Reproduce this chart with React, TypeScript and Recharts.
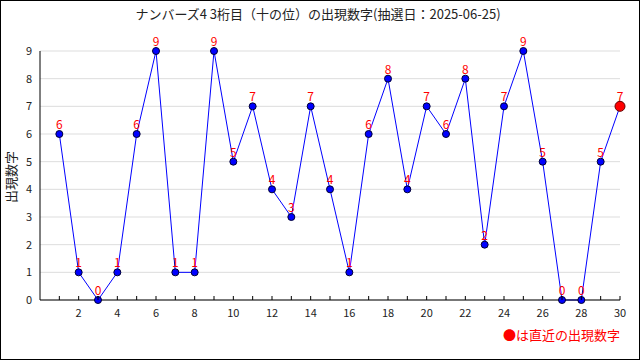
import { LineChart, Line, XAxis, YAxis, CartesianGrid, LabelList } from "recharts";

const draws = [1, 2, 3, 4, 5, 6, 7, 8, 9, 10, 11, 12, 13, 14, 15, 16, 17, 18, 19, 20, 21, 22, 23, 24, 25, 26, 27, 28, 29, 30];
const digits = [6, 1, 0, 1, 6, 9, 1, 1, 9, 5, 7, 4, 3, 7, 4, 1, 6, 8, 4, 7, 6, 8, 2, 7, 9, 5, 0, 0, 5, 7];
const yTicks = [0, 1, 2, 3, 4, 5, 6, 7, 8, 9];

const title = "ナンバーズ4 3桁目（十の位）の出現数字(抽選日：2025-06-25)";
const legendText = "●は直近の出現数字";
const yLabel = "出現数字";

const data = draws.map((d, i) => ({ n: d, v: digits[i] }));
const FONT = '"Noto Sans CJK JP", "DejaVu Sans", sans-serif';

if (typeof document !== "undefined") document.body.style.margin = "0";

// eslint-disable-next-line @typescript-eslint/no-explicit-any
function XTick({ x, y, payload }: any) {
  const v = payload.value;
  return (
    <g>
      <line x1={x} y1={y} x2={x} y2={y - 4} stroke="#000" />
      {v % 2 === 0 && (
        <text x={x} y={y + 17} textAnchor="middle" fontSize={11} fill="#222" fontFamily={FONT}>
          {v}
        </text>
      )}
    </g>
  );
}

// eslint-disable-next-line @typescript-eslint/no-explicit-any
function Dot({ cx, cy, index }: any) {
  if (index === digits.length - 1) {
    return <circle key={index} cx={cx} cy={cy} r={5} fill="#ff0000" stroke="#660000" strokeWidth={1} />;
  }
  return <circle key={index} cx={cx} cy={cy} r={3.5} fill="#0000ff" stroke="#000033" strokeWidth={1} />;
}

export default function App() {
  return (
    <div style={{ position: "relative", width: 640, height: 360, background: "#fff", fontFamily: FONT }}>
      <LineChart width={640} height={360} data={data} margin={{ top: 51, right: 20, left: 0, bottom: 40 }}>
        <CartesianGrid horizontal vertical={false} stroke="#dddddd" />
        <XAxis
          dataKey="n"
          type="number"
          domain={[0, 30]}
          ticks={draws}
          interval={0}
          tick={<XTick />}
          tickLine={false}
          tickSize={0}
          tickMargin={0}
          axisLine={{ stroke: "#000" }}
          height={20}
        />
        <YAxis
          domain={[0, 9]}
          ticks={yTicks}
          interval={0}
          width={40}
          tickLine={false}
          tickSize={0}
          tickMargin={8}
          axisLine={{ stroke: "#000" }}
          tick={{ fontSize: 11, fill: "#222", fontFamily: FONT }}
          label={{
            content: () => (
              <text
                x={12}
                y={177}
                transform="rotate(-90 12 177)"
                textAnchor="middle"
                dominantBaseline="middle"
                fontSize={13}
                fill="#222"
                fontFamily={FONT}
              >
                {yLabel}
              </text>
            ),
          }}
        />
        <Line
          type="linear"
          dataKey="v"
          stroke="#0000ff"
          strokeWidth={1}
          dot={<Dot />}
          activeDot={false}
          isAnimationActive={false}
        >
          <LabelList dataKey="v" position="top" offset={5} fill="#ff0000" fontSize={12} fontFamily={FONT} />
        </Line>
      </LineChart>
      <div
        style={{
          position: "absolute",
          top: 4,
          left: 0,
          width: 636,
          textAlign: "center",
          fontSize: 13,
          color: "#222",
          whiteSpace: "nowrap",
        }}
      >
        {title}
      </div>
      <div style={{ position: "absolute", top: 325, right: 20, fontSize: 13, color: "#ff0000", whiteSpace: "nowrap" }}>
        {legendText}
      </div>
      <div
        style={{
          position: "absolute",
          inset: 0,
          border: "1px solid #000",
          pointerEvents: "none",
        }}
      />
    </div>
  );
}
